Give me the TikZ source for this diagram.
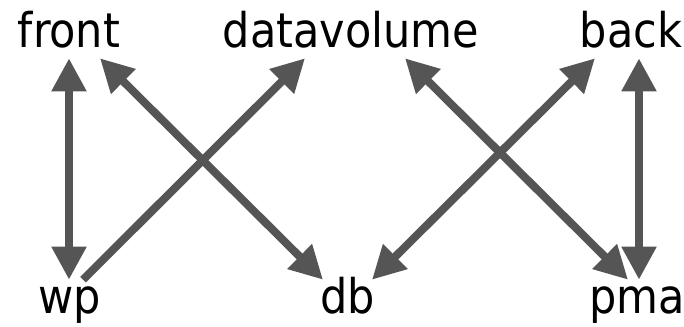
\documentclass[tikz,border=0pt]{standalone}
\usepackage{fontspec}
\setmainfont{DejaVu Sans Condensed}
\usetikzlibrary{arrows.meta}
\definecolor{linkgray}{RGB}{85,85,85}

\begin{document}
\begin{tikzpicture}[
		x=0.025cm, y=-0.025cm,
		service/.style={inner sep=0pt, text height=0.85cm, text depth=0.25cm, anchor=base, font=\fontsize{34}{40}\selectfont},
		arrow/.style={draw=linkgray, line width=0.2cm, -{Triangle[length=0.825cm, width=0.825cm]}},
		both/.style={arrow, {Triangle[length=0.825cm, width=0.825cm]}-{Triangle[length=0.825cm, width=0.825cm]}}
		]
		\useasboundingbox (0,0) rectangle (684,327);
		% Nodes
		\node[service] (front) at (69,48) {front};
		\node[service] (datavolume) at (351,48) {datavolume};
		\node[service] (back) at (631,48) {back};
		\node[service] (wp) at (70,314) {wp};
		\node[service] (db) at (348,314) {db};
		\node[service] (pma) at (637,314) {pma};
		
		% Arrows
		\draw[both] (front.south) -- (front.south |- wp.north);
		\draw[arrow] ([shift={(13,0)}]wp.north) -- ([shift={(-46,0)}]datavolume.south);
		\draw[both] ([shift={(31,0)}]front.south) -- ([shift={(-25,0)}]db.north);
		\draw[both] ([shift={(54,0)}]datavolume.south) -- ([shift={(-9,0)}]pma.north);
		\draw[both] ([shift={(24,0)}]db.north) -- ([shift={(-36,0)}]back.south);
		\draw[both] ([shift={(8,0)}]back.south) -- ([shift={(2,0)}]pma.north);
	\end{tikzpicture}
\end{document}
